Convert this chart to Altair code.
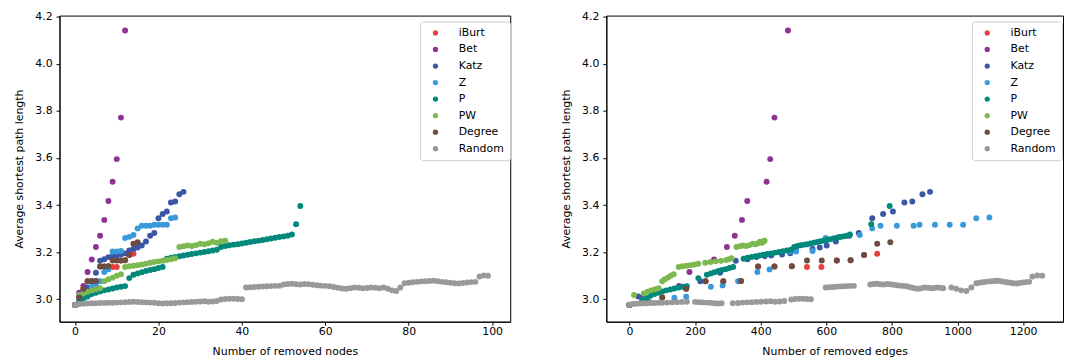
import altair as alt
import pandas as pd

METHODS = ["iBurt", "Bet", "Katz", "Z", "P", "PW", "Degree", "Random"]
COLORS = ["#E8413C", "#8E3394", "#3A56A6", "#3A9AD9", "#00897B", "#7CB950", "#6D4C41", "#999999"]

IBURT_Y = [2.976, 3.008, 3.045, 3.077, 3.077, 3.078, 3.139, 3.139, 3.140, 3.137, 3.137, 3.165, 3.166, 3.188, 3.193]
IBURT_E = [0, 100, 173, 232, 286, 340, 392, 442, 495, 541, 585, 632, 674, 715, 755]

BET_Y = [2.976, 3.028, 3.057, 3.116, 3.169, 3.222, 3.270, 3.337, 3.417, 3.499, 3.595, 3.771, 4.141]
BET_E = [0, 75, 151, 183, 258, 297, 321, 343, 359, 418, 429, 442, 483]

KATZ_Y = [2.976, 3.012, 3.016, 3.050, 3.077, 3.113, 3.164, 3.170, 3.179, 3.183, 3.186, 3.190, 3.195, 3.207,
          3.214, 3.220, 3.228, 3.245, 3.270, 3.281, 3.344, 3.362, 3.373, 3.411, 3.415, 3.446, 3.456]
KATZ_E = [0, 27, 44, 170, 216, 276, 324, 360, 387, 412, 432, 465, 490, 507,
          558, 580, 601, 629, 670, 699, 740, 773, 803, 838, 862, 893, 916]

Z_Y = [2.976, 2.990, 3.007, 3.011, 3.053, 3.059, 3.077, 3.116, 3.127, 3.203, 3.203, 3.205, 3.260,
       3.265, 3.273, 3.301, 3.312, 3.312, 3.312, 3.316, 3.316, 3.316, 3.316, 3.344, 3.347]
Z_E = [0, 60, 137, 173, 248, 284, 331, 390, 427, 489, 508, 558, 598,
       640, 702, 740, 765, 815, 866, 884, 931, 976, 1017, 1057, 1097]

P_Y = [2.976, 2.995, 3.005, 3.015, 3.022, 3.028, 3.033, 3.038, 3.042, 3.046, 3.050, 3.053, 3.056,
       3.090, 3.104, 3.110, 3.115, 3.120, 3.124, 3.128, 3.133, 3.137,
       3.172, 3.176, 3.180, 3.183, 3.186, 3.189, 3.192, 3.195, 3.198, 3.201, 3.204, 3.207, 3.210,
       3.222, 3.226, 3.229, 3.232, 3.234, 3.237, 3.240, 3.243, 3.246, 3.249, 3.252, 3.255, 3.258,
       3.261, 3.264, 3.267, 3.270, 3.275, 3.319, 3.396]
P_E = [0, 39, 52, 64, 76, 88, 100, 112, 125, 137, 150, 162, 175,
       210, 236, 248, 259, 271, 282, 293, 305, 316,
       348, 360, 372, 384, 396, 408, 420, 432, 444, 456, 468, 480, 492,
       502, 512, 522, 532, 542, 552, 562, 572, 582, 592, 602, 612, 622,
       632, 642, 652, 662, 672, 737, 793]

PW_Y = [2.976, 3.018, 3.025, 3.032, 3.038, 3.043, 3.047, 3.077, 3.085, 3.092, 3.100, 3.106,
        3.137, 3.140, 3.142, 3.145, 3.148, 3.151, 3.155, 3.158, 3.161, 3.164, 3.167, 3.170, 3.174,
        3.222, 3.225, 3.228, 3.226, 3.230, 3.236, 3.234, 3.238, 3.244, 3.240, 3.246, 3.249]
PW_E = [0, 14, 44, 55, 66, 78, 89, 100, 108, 117, 126, 135,
        150, 162, 174, 186, 198, 210, 231, 247, 263, 279, 295, 303, 311,
        326, 336, 346, 356, 366, 376, 384, 392, 398, 404, 408, 412]

DEG_Y = [2.976, 3.008, 3.045, 3.077, 3.077, 3.078, 3.139, 3.139, 3.140, 3.165, 3.165, 3.165, 3.166, 3.188, 3.236, 3.242]
DEG_E = [0, 100, 173, 232, 286, 340, 392, 442, 495, 541, 586, 632, 674, 715, 755, 795]

RND_Y = [2.976,
         2.980, 2.981, 2.982, 2.983, 2.983, 2.984, 2.984, 2.985, 2.985,
         2.986, 2.987, 2.988, 2.989, 2.990,
         2.989, 2.988, 2.987, 2.986, 2.985, 2.983, 2.982, 2.983,
         2.983,
         2.984, 2.986, 2.987, 2.988, 2.989, 2.990, 2.991, 2.992, 2.990, 2.991, 2.993,
         2.999, 3.001, 3.002, 3.002, 3.001, 3.000,
         3.050, 3.051, 3.052, 3.053, 3.054, 3.055, 3.056, 3.057, 3.057,
         3.063, 3.065, 3.066, 3.064, 3.063, 3.065, 3.064, 3.062, 3.060,
         3.058, 3.057, 3.055, 3.052, 3.049, 3.046, 3.045, 3.047, 3.050, 3.049, 3.047, 3.048, 3.050, 3.049, 3.047,
         3.050, 3.045, 3.038, 3.035, 3.050,
         3.068, 3.070, 3.072, 3.074, 3.076, 3.077, 3.078, 3.079, 3.077, 3.074, 3.072, 3.070, 3.068, 3.067,
         3.069, 3.071, 3.073, 3.074,
         3.097, 3.101, 3.100]
RND_E = [0,
         9, 20, 32, 43, 55, 66, 77, 89, 100,
         115, 130, 145, 160, 175,
         200, 212, 223, 235, 246, 258, 269, 281,
         315,
         331, 345, 359, 373, 387, 401, 416, 430, 444, 458, 472,
         493, 505, 517, 529, 541, 553,
         598, 609, 620, 630, 641, 652, 663, 673, 684,
         734, 744, 754, 764, 774, 785, 795, 805, 815,
         825, 834, 844, 853, 862, 872, 881, 890, 900, 909, 919, 928, 937, 947, 956,
         981, 996, 1011, 1027, 1042,
         1057, 1066, 1076, 1085, 1095, 1104, 1114, 1123, 1133, 1142, 1151, 1161, 1170, 1180,
         1189, 1199, 1208, 1218,
         1228, 1243, 1258]

SERIES = {
    "iBurt": (IBURT_Y, IBURT_E),
    "Bet": (BET_Y, BET_E),
    "Katz": (KATZ_Y, KATZ_E),
    "Z": (Z_Y, Z_E),
    "P": (P_Y, P_E),
    "PW": (PW_Y, PW_E),
    "Degree": (DEG_Y, DEG_E),
    "Random": (RND_Y, RND_E),
}

rows = []
for m in METHODS:
    ys, es = SERIES[m]
    for i, (y, e) in enumerate(zip(ys, es)):
        rows.append({"method": m, "nodes": i, "edges": e, "apl": y})
df = pd.DataFrame(rows)

Y_TICKS = [3.0, 3.2, 3.4, 3.6, 3.8, 4.0, 4.2]
X_TICKS_NODES = [0, 20, 40, 60, 80, 100]
X_TICKS_EDGES = [0, 200, 400, 600, 800, 1000, 1200]

color_scale = alt.Scale(domain=METHODS, range=COLORS)


def legend(x):
    return alt.Legend(
        title=None, orient="none", legendX=x, legendY=6,
        symbolType="circle", symbolSize=28, symbolStrokeWidth=0,
        symbolOffset=4, labelFontSize=11, labelOffset=18, rowPadding=4.7,
        padding=6, fillColor="rgba(255,255,255,0.85)", strokeColor="#cccccc",
        cornerRadius=3,
    )


y_enc = alt.Y("apl:Q", title="Average shortest path length",
              scale=alt.Scale(domain=[2.905, 4.204], nice=False, zero=False),
              axis=alt.Axis(values=Y_TICKS, format=".1f"))

left = alt.Chart(df).mark_circle(size=36, opacity=1).encode(
    x=alt.X("nodes:Q", title="Number of removed nodes",
            scale=alt.Scale(domain=[-3.73, 104.35], nice=False, zero=False),
            axis=alt.Axis(values=X_TICKS_NODES, format="d")),
    y=y_enc,
    color=alt.Color("method:N", scale=color_scale, sort=METHODS, legend=legend(364)),
).properties(width=455, height=309)

right = alt.Chart(df).mark_circle(size=36, opacity=1).encode(
    x=alt.X("edges:Q", title="Number of removed edges",
            scale=alt.Scale(domain=[-70.4, 1321.3], nice=False, zero=False),
            axis=alt.Axis(values=X_TICKS_EDGES, format="d")),
    y=y_enc,
    color=alt.Color("method:N", scale=color_scale, sort=METHODS, legend=legend(369)),
).properties(width=461, height=309)

chart = alt.hconcat(left, right, spacing=49).resolve_scale(
    x="independent", y="independent"
).resolve_legend(color="independent").properties(
    padding={"left": 5, "top": 0, "right": 0, "bottom": 0}
).configure(
    font="DejaVu Sans"
).configure_view(
    stroke="black", strokeWidth=1
).configure_axis(
    grid=False, domainColor="black", tickColor="black", labelColor="black",
    titleColor="black", labelFontSize=11, titleFontSize=11, titleFontWeight="normal",
    tickSize=3.5
).configure_axisX(
    labelPadding=0.5, titlePadding=9
).configure_axisY(
    labelPadding=4, titlePadding=10
)

chart.save("out.html", embed_options={"renderer": "svg", "actions": False})
